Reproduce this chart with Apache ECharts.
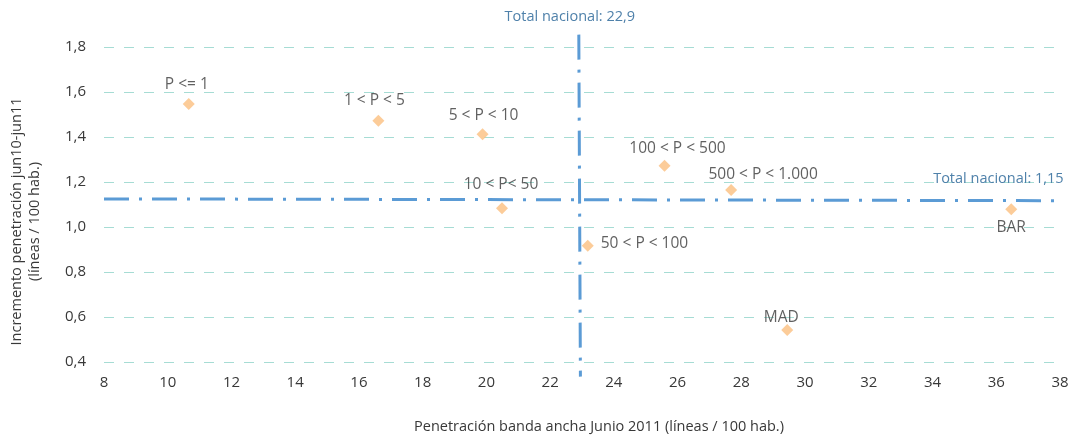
<!DOCTYPE html>
<html>
<head>
<meta charset="utf-8">
<script src="https://cdn.jsdelivr.net/npm/echarts@6/dist/echarts.min.js"></script>
<style>
	html, body { margin: 0; padding: 0; background: #fff; }
	#chart { width: 1076px; height: 439px; }
</style>
</head>
<body>
<div id="chart"></div>
<script>
// datos
var pointNames = ['P <= 1', '1 < P < 5', '5 < P < 10', '10 < P< 50', '50 < P < 100', '100 < P < 500', '500 < P < 1.000', 'MAD', 'BAR'];
var penetracion = [10.66, 16.61, 19.88, 20.49, 23.18, 25.59, 27.68, 29.44, 36.47];
var incremento = [1.547, 1.472, 1.412, 1.083, 0.917, 1.272, 1.164, 0.542, 1.079];

// líneas "Total nacional" tal como están dibujadas
var totalXLine = [[22.95, 0.335], [22.9, 1.855]];
var totalYLine = [[8, 1.125], [38.05, 1.117]];
var totalXLabel = 'Total nacional: 22,9';
var totalYLabel = 'Total nacional: 1,15';

var xTicks = { min: 8, max: 38, interval: 2 };
var yTicks = { min: 0.4, max: 1.8, interval: 0.2 };

var byId = function(id) {
	return document.getElementById(id);
};

var fontFamily = 'Open Sans';
var textColor = '#383838';
var refBlue = '#4f81aa';

// posición de cada etiqueta (solo estilo)
var labelPlace = {
	'P <= 1': { position: 'top', offset: [-2, 0] },
	'1 < P < 5': { position: 'top', offset: [-4, -1] },
	'5 < P < 10': { position: 'top', offset: [1, 0] },
	'10 < P< 50': { position: 'top', offset: [-1, -5] },
	'50 < P < 100': { position: 'right', offset: [2, -2] },
	'100 < P < 500': { position: 'top', offset: [13, 2] },
	'500 < P < 1.000': { position: 'top', offset: [32, 3] },
	'MAD': { position: 'top', offset: [-6, 7] },
	'BAR': { position: 'bottom', offset: [0, -1] }
};

var points = [];
for (var i = 0; i < pointNames.length; i++) {
	var place = labelPlace[pointNames[i]];
	points.push({
		name: pointNames[i],
		value: [penetracion[i], incremento[i]],
		label: {
			show: true,
			position: place.position,
			offset: place.offset,
			distance: 5,
			formatter: '{b}',
			color: textColor,
			fontSize: 15.5,
			fontFamily: fontFamily
		}
	});
}

var comma = function(v) {
	return v.toFixed(1).replace('.', ',');
};

var makeRefLine = function(data, dashOffset, label) {
	return {
		type: 'line',
		data: data,
		symbol: 'none',
		clip: false,
		silent: true,
		z: 1,
		lineStyle: {
			color: '#5b9bd5',
			width: 3,
			type: [25, 10, 3, 10],
			dashOffset: dashOffset
		},
		endLabel: label
	};
};

var option = {
	animation: false,
	grid: {
		left: 103,
		right: 16,
		top: 47,
		bottom: 77
	},
	xAxis: {
		type: 'value',
		min: xTicks.min,
		max: xTicks.max,
		interval: xTicks.interval,
		name: 'Penetración banda ancha Junio 2011 (líneas / 100 hab.)',
		nameLocation: 'middle',
		nameGap: 57,
		nameTextStyle: { color: textColor, fontSize: 14.5, fontFamily: fontFamily, padding: [0, 0, 0, 34] },
		axisLine: { show: false },
		axisTick: { show: false },
		splitLine: { show: false },
		axisLabel: { color: textColor, fontSize: 15, fontFamily: fontFamily, margin: 13 }
	},
	yAxis: {
		type: 'value',
		min: yTicks.min,
		max: yTicks.max,
		interval: yTicks.interval,
		name: 'Incremento penetración jun10-jun11\n(líneas / 100 hab.)',
		nameLocation: 'middle',
		nameRotate: 90,
		nameGap: 60,
		nameTextStyle: { color: textColor, fontSize: 14.5, fontFamily: fontFamily, lineHeight: 18, padding: [0, 34, 0, 0] },
		axisLine: { show: false },
		axisTick: { show: false },
		splitLine: { show: true, lineStyle: { color: '#a6dcd4', width: 1, type: [10, 10] } },
		axisLabel: { color: textColor, fontSize: 15, fontFamily: fontFamily, margin: 18, formatter: comma }
	},
	series: [
		makeRefLine(totalXLine, 19, {
			show: true,
			formatter: totalXLabel,
			align: 'center',
			verticalAlign: 'bottom',
			distance: 0,
			offset: [-9, -10],
			color: refBlue,
			fontSize: 14.5,
			fontFamily: fontFamily
		}),
		makeRefLine(totalYLine, 0, {
			show: true,
			formatter: totalYLabel,
			align: 'right',
			verticalAlign: 'bottom',
			distance: 0,
			offset: [2, -14],
			color: refBlue,
			fontSize: 14.5,
			fontFamily: fontFamily
		}),
		{
			type: 'scatter',
			symbol: 'diamond',
			symbolSize: 12,
			z: 3,
			itemStyle: { color: '#fbbf80' },
			data: points
		}
	]
};

var chart = echarts.init(byId('chart'));
chart.setOption(option);
</script>
</body>
</html>
